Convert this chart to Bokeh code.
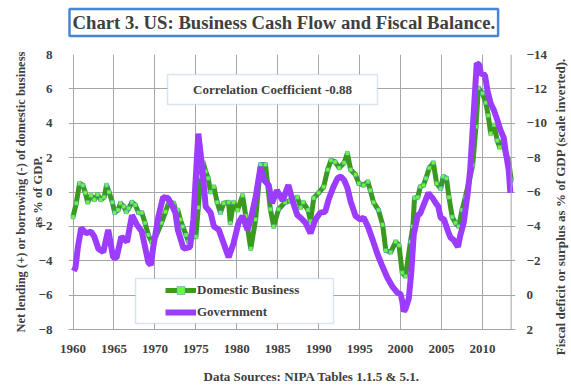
import math
from bokeh.plotting import figure
from bokeh.models import (Range1d, LinearAxis, FixedTicker, Legend, LegendItem,
                          Label, BoxAnnotation, Title, Span)
from bokeh.embed import file_html
from bokeh.resources import INLINE

# ---------------- data ----------------
business_years = [1960.0, 1960.4, 1960.8, 1961.2, 1961.5, 1961.8, 1962.2, 1962.6, 1963.0, 1963.4,
                  1963.8, 1964.1, 1964.4, 1964.8, 1965.1, 1965.5, 1965.8, 1966.2, 1966.5, 1966.8,
                  1967.2, 1967.6, 1968.0, 1968.4, 1968.8, 1969.2, 1969.6, 1970.2, 1970.8, 1971.3,
                  1971.7, 1972.3, 1972.6, 1972.8, 1973.1, 1973.4, 1973.8, 1974.1, 1974.5, 1975.0,
                  1975.3, 1975.6, 1975.9, 1976.2, 1976.5, 1976.8, 1977.2, 1977.6, 1978.0, 1978.4,
                  1979.0, 1979.2, 1979.6, 1980.1, 1980.7, 1981.1, 1981.7, 1982.3, 1982.9, 1983.5,
                  1984.1, 1984.5, 1985.1, 1985.9, 1986.5, 1987.0, 1987.4, 1987.8, 1988.1, 1988.7,
                  1989.0, 1989.4, 1990.0, 1990.6, 1991.1, 1991.5, 1992.0, 1992.5, 1993.1, 1993.5,
                  1993.9, 1994.5, 1994.9, 1995.5, 1996.0, 1996.3, 1996.7, 1997.3, 1997.8, 1998.2,
                  1998.8, 1999.4, 1999.8, 2000.2, 2000.6, 2001.2, 2001.5, 2001.7, 2002.1, 2002.4,
                  2002.8, 2003.1, 2003.5, 2004.0, 2004.4, 2004.9, 2005.2, 2005.6, 2005.9, 2006.3,
                  2006.7, 2007.1, 2007.5, 2007.9, 2008.3, 2008.8, 2009.2, 2009.5, 2010.0, 2010.4,
                  2010.7, 2011.0, 2011.4, 2011.8, 2012.1, 2012.5, 2012.8, 2013.2, 2013.5]
business_values = [-1.45, -0.65, 0.5, 0.4, -0.05, -0.6, -0.2, -0.45, -0.15, -0.45,
                   -0.3, 0.4, 0.0, -0.6, -1.2, -1.05, -0.65, -0.85, -1.15, -0.95,
                   -0.6, -0.75, -1.2, -1.2, -1.8, -2.5, -2.9, -2.5, -1.8, -1.15,
                   -0.6, -0.65, -1.2, -1.05, -1.6, -2.0, -2.5, -2.9, -2.6, -2.6,
                   -0.9, 0.9, 1.7, 1.2, 0.8, 0.0, 0.3, -0.6, -1.2, -0.65,
                   -0.6, -1.8, -0.6, -1.05, -0.2, -1.4, -3.3, -1.6, 1.6, 1.6,
                   -1.0, -2.0, -1.0, -0.6, -0.5, -0.4, -0.3, -0.9, -0.6, -1.05,
                   -1.7, -0.35, -0.05, 0.3, 1.3, 1.85, 1.75, 1.4, 1.7, 2.25,
                   1.3, 1.0, 0.5, 0.4, 0.6, 0.1, -0.6, -1.05, -1.9, -3.4,
                   -3.5, -2.9, -3.1, -4.7, -4.9, -2.9, -2.0, -0.35, -0.3, 0.3,
                   0.4, 0.8, 1.4, 1.7, 0.5, 0.2, 0.9, 0.8, -0.3, -1.45,
                   -1.8, -2.0, -1.05, -0.3, 0.5, 1.55, 3.8, 6.05, 5.75, 5.2,
                   4.45, 3.4, 3.9, 3.0, 2.6, 3.0, 2.25, 1.85, 0.7]

government_years = [1960.1, 1960.3, 1960.6, 1961.0, 1961.6, 1962.2, 1962.6, 1963.1, 1963.7, 1964.3,
                    1964.9, 1965.3, 1965.9, 1966.6, 1967.2, 1967.8, 1968.4, 1968.8, 1969.2, 1969.5,
                    1969.8, 1970.4, 1971.0, 1971.6, 1972.1, 1972.5, 1972.8, 1973.5, 1974.3, 1974.7,
                    1975.3, 1975.8, 1976.2, 1976.8, 1977.2, 1977.8, 1978.4, 1979.0, 1979.6, 1980.2,
                    1980.7, 1981.3, 1981.7, 1982.3, 1982.9, 1983.3, 1983.9, 1984.3, 1984.9, 1985.6,
                    1986.3, 1986.9, 1987.4, 1987.8, 1988.4, 1989.0, 1989.6, 1990.2, 1990.8, 1991.2,
                    1991.8, 1992.3, 1992.7, 1993.1, 1993.5, 1993.9, 1994.5, 1995.1, 1995.5, 1996.0,
                    1996.6, 1997.2, 1997.8, 1998.4, 1999.0, 1999.6, 2000.0, 2000.2, 2000.4, 2000.6,
                    2001.0, 2001.3, 2001.6, 2002.1, 2002.4, 2002.9, 2003.4, 2003.6, 2003.9, 2004.3,
                    2004.6, 2004.9, 2005.3, 2005.8, 2006.1, 2006.5, 2007.0, 2007.3, 2007.7, 2008.2,
                    2008.5, 2008.9, 2009.3, 2009.6, 2009.8, 2010.3, 2010.6, 2011.0, 2011.4, 2011.8,
                    2012.2, 2012.6, 2012.8, 2013.2, 2013.4]
# fiscal balance, % of GDP (plotted on the inverted right axis)
government_values = [-1.4, -1.6, -2.8, -3.9, -3.6, -3.7, -3.4, -2.7, -2.5, -3.8,
                     -2.2, -2.15, -3.4, -3.1, -4.65, -4.1, -3.7, -2.8, -1.9, -1.75,
                     -2.8, -4.5, -5.7, -5.65, -5.2, -4.8, -3.8, -2.7, -2.8, -4.4,
                     -9.4, -7.3, -5.15, -4.8, -4.0, -3.8, -3.0, -2.2, -3.0, -4.2,
                     -4.6, -3.8, -4.4, -5.7, -7.45, -6.7, -6.4, -5.35, -6.1, -5.5,
                     -6.4, -5.35, -4.65, -4.5, -4.2, -3.6, -4.4, -4.8, -4.85, -5.55,
                     -6.3, -6.8, -6.9, -6.7, -6.25, -5.45, -4.6, -4.4, -4.5, -4.0,
                     -3.2, -2.35, -1.65, -1.0, -0.5, -0.15, -0.05, 0.35, 0.95, 0.8,
                     0.2, -1.3, -3.5, -4.65, -4.75, -5.35, -5.95, -5.8, -5.65, -5.35,
                     -5.15, -4.5, -4.4, -3.7, -3.35, -3.2, -2.8, -3.5, -4.2, -5.95,
                     -7.3, -10.4, -13.5, -13.4, -12.9, -12.8, -11.9, -11.15, -10.75, -10.2,
                     -9.6, -9.15, -8.45, -7.3, -5.95]

x_ticks = [1960, 1965, 1970, 1975, 1980, 1985, 1990, 1995, 2000, 2005, 2010]
left_ticks = [-8, -6, -4, -2, 0, 2, 4, 6, 8]
right_ticks = [-14, -12, -10, -8, -6, -4, -2, 0, 2]

title_text = "Chart 3. US: Business Cash Flow and Fiscal Balance."
corr_text = "Correlation Coefficient -0.88"
source_text = "Data Sources: NIPA Tables 1.1.5 & 5.1."
left_title = "Net lending (+) or borrowing (-) of domestic business\nas % of GDP."
right_title = "Fiscal deficit or surplus as % of GDP (scale inverted)."

# ---------------- styling ----------------
FONT = "Liberation Serif"
TXT = "#404040"
GRID = "#a6a6a6"
GREEN = "#3a9a1e"
MARK = "#66ff33"
PURPLE = "#9b3cff"
BOXBLUE = "#7eaadf"

p = figure(frame_width=447, frame_height=275, output_backend="svg", toolbar_location=None,
           x_range=Range1d(1959.45, 2014.03), y_range=Range1d(-8, 8),
           min_border_left=68, min_border_right=56, min_border_top=54, min_border_bottom=59)
p.outline_line_color = None
p.background_fill_color = "white"
p.border_fill_color = "white"

p.extra_y_ranges = {"right": Range1d(start=2, end=-14)}

# grids
p.xgrid.ticker = FixedTicker(ticks=x_ticks)
p.ygrid.ticker = FixedTicker(ticks=left_ticks)
for g in (p.xgrid, p.ygrid):
    g.grid_line_color = GRID
    g.grid_line_width = 1

# axes
xa = p.xaxis[0]
xa.ticker = FixedTicker(ticks=x_ticks)
ya = p.yaxis[0]
ya.ticker = FixedTicker(ticks=left_ticks)
ya.axis_label = left_title
ra = LinearAxis(y_range_name="right", ticker=FixedTicker(ticks=right_ticks))
p.add_layout(ra, "right")

for ax in (xa, ya, ra):
    ax.major_tick_line_color = None
    ax.minor_tick_line_color = None
    ax.major_label_text_font = FONT
    ax.major_label_text_font_style = "bold"
    ax.major_label_text_font_size = "13px"
    ax.major_label_text_color = TXT
    ax.axis_label_text_font = FONT
    ax.axis_label_text_font_style = "bold"
    ax.axis_label_text_font_size = "12.5px"
    ax.axis_label_text_color = TXT
xa.axis_line_color = GRID
ya.axis_line_color = None
ra.axis_line_color = None
xa.major_label_standoff = 9
ya.major_label_standoff = 10
ya.axis_label_standoff = -9
ra.major_label_standoff = 5

# right-hand axis title, reading bottom-to-top, placed in the right panel
p.add_layout(Label(x=11, y=123, x_units="screen", y_units="screen", text=right_title,
                   angle=math.pi / 2, text_align="center", text_baseline="middle",
                   text_font=FONT, text_font_style="bold", text_font_size="13px",
                   text_color=TXT), "right")

# end-of-data boundary line (category axis end)
p.add_layout(Span(location=max(business_years), dimension="height", line_color=GRID, line_width=1))

# series
gl = p.line(business_years, business_values, line_width=5, line_color=GREEN)
gs = p.scatter(business_years, business_values, marker="square", size=4,
               fill_color=MARK, line_color="#5b8bd0", line_width=0.5)
pl = p.line(government_years, government_values, y_range_name="right",
            line_width=6, line_color=PURPLE)

# legend box + legend
p.add_layout(BoxAnnotation(left=67, right=265, bottom=6, top=51,
                           left_units="screen", right_units="screen",
                           bottom_units="screen", top_units="screen",
                           fill_color="white", fill_alpha=1,
                           line_color=BOXBLUE, line_width=1.5))
legend = Legend(items=[LegendItem(label="Domestic Business", renderers=[gl, gs]),
                       LegendItem(label="Government", renderers=[pl])],
                location=(93, 3), glyph_width=31, glyph_height=20, label_standoff=1,
                padding=4, spacing=2, margin=0,
                border_line_alpha=0, background_fill_alpha=0,
                label_text_font=FONT, label_text_font_style="bold",
                label_text_font_size="13px", label_text_color=TXT)
p.add_layout(legend)

# correlation box
p.add_layout(BoxAnnotation(left=99, right=309, bottom=225, top=255,
                           left_units="screen", right_units="screen",
                           bottom_units="screen", top_units="screen",
                           fill_color="white", fill_alpha=1,
                           line_color=BOXBLUE, line_width=1.5))
p.add_layout(Label(x=204, y=240, x_units="screen", y_units="screen", text=corr_text,
                   text_align="center", text_baseline="middle", text_font=FONT,
                   text_font_style="bold", text_font_size="13px", text_color=TXT))

# spacer between frame and boxed title, then the boxed title itself
p.add_layout(Title(text=" ", text_font_size="1px", standoff=14), "above")
p.add_layout(Title(text=title_text, align="left", offset=1, standoff=3,
                   text_font=FONT, text_font_style="bold", text_font_size="18.7px",
                   text_color=TXT, border_line_color="#4a86d8", border_line_width=2.5,
                   background_fill_color="white", padding=3), "above")

# source note below
p.add_layout(Title(text=source_text, align="left", offset=135, text_font=FONT,
                   text_font_style="bold", text_font_size="13px", text_color=TXT,
                   standoff=22), "below")

open("out.html", "w").write(file_html(p, INLINE))
